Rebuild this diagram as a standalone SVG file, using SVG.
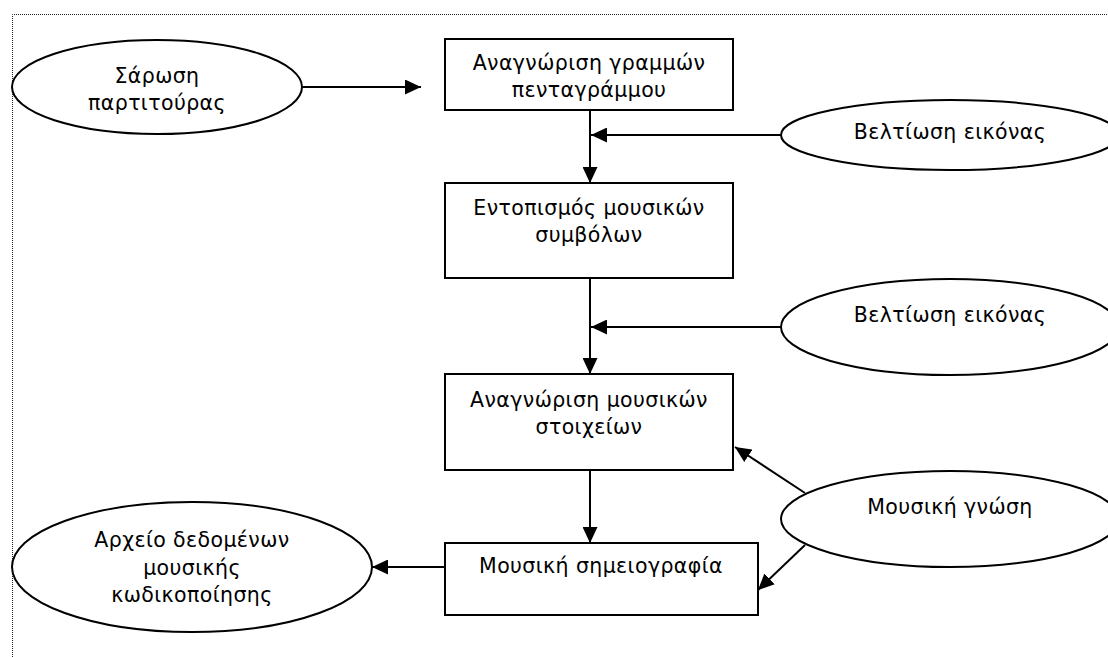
<svg xmlns="http://www.w3.org/2000/svg" width="1108" height="657" viewBox="0 0 1108 657">
<style>
.n{fill:#fff;stroke:#000;stroke-width:2}
.t{font-family:"DejaVu Sans",Verdana,sans-serif;font-size:20.5px;letter-spacing:0.4px;fill:#000;text-anchor:middle}
.c{stroke:#000;stroke-width:2;fill:none}
</style>
<defs>
<marker id="ah" markerWidth="16" markerHeight="15" refX="16" refY="7.5" orient="auto" markerUnits="userSpaceOnUse">
<path d="M0,0 L16,7.5 L0,15 Z" fill="#000"/>
</marker>
</defs>
<path d="M12.5,657 V14.5 H1108" fill="none" stroke="#222" stroke-width="1" stroke-dasharray="1,1"/>
<g id="connectors">
<line class="c" x1="302" y1="87" x2="421" y2="87" marker-end="url(#ah)"/>
<line class="c" x1="590" y1="110" x2="590" y2="183" marker-end="url(#ah)"/>
<line class="c" x1="781" y1="135" x2="591" y2="135" marker-end="url(#ah)"/>
<line class="c" x1="590" y1="278" x2="590" y2="374" marker-end="url(#ah)"/>
<line class="c" x1="781" y1="327" x2="591" y2="327" marker-end="url(#ah)"/>
<line class="c" x1="590" y1="470" x2="590" y2="543" marker-end="url(#ah)"/>
<line class="c" x1="445" y1="567" x2="372" y2="567" marker-end="url(#ah)"/>
<line class="c" x1="805" y1="493" x2="735" y2="447" marker-end="url(#ah)"/>
<line class="c" x1="805" y1="545" x2="758" y2="590" marker-end="url(#ah)"/>
</g>
<g id="scan">
<ellipse class="n" cx="157" cy="87" rx="145" ry="47"/>
<text class="t" x="157" y="83">Σάρωση</text>
<text class="t" x="157" y="110">παρτιτούρας</text>
</g>
<g id="staff">
<rect class="n" x="445" y="39" width="288" height="71"/>
<text class="t" x="589" y="70">Αναγνώριση γραμμών</text>
<text class="t" x="589" y="97">πενταγράμμου</text>
</g>
<g id="enhance1">
<ellipse class="n" cx="950" cy="135" rx="169" ry="35"/>
<text class="t" x="950" y="139">Βελτίωση εικόνας</text>
</g>
<g id="locate">
<rect class="n" x="445" y="183" width="288" height="95"/>
<text class="t" x="589" y="215">Εντοπισμός μουσικών</text>
<text class="t" x="589" y="242">συμβόλων</text>
</g>
<g id="enhance2">
<ellipse class="n" cx="950" cy="327" rx="169" ry="48"/>
<text class="t" x="950" y="322">Βελτίωση εικόνας</text>
</g>
<g id="recognize">
<rect class="n" x="445" y="374" width="288" height="96"/>
<text class="t" x="589" y="407">Αναγνώριση μουσικών</text>
<text class="t" x="589" y="434">στοιχείων</text>
</g>
<g id="knowledge">
<ellipse class="n" cx="950" cy="519" rx="169" ry="48"/>
<text class="t" x="950" y="514">Μουσική γνώση</text>
</g>
<g id="notation">
<rect class="n" x="445" y="543" width="313" height="72"/>
<text class="t" x="601" y="573">Μουσική σημειογραφία</text>
</g>
<g id="datafile">
<ellipse class="n" cx="192" cy="567" rx="180" ry="65"/>
<text class="t" x="192" y="547">Αρχείο δεδομένων</text>
<text class="t" x="192" y="575">μουσικής</text>
<text class="t" x="192" y="602">κωδικοποίησης</text>
</g>
</svg>
